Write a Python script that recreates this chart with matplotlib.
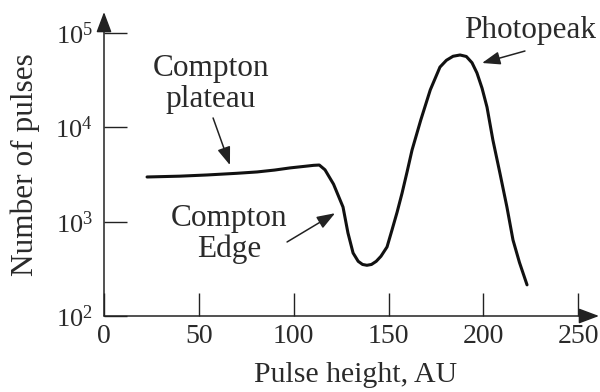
import matplotlib
matplotlib.use("Agg")
import matplotlib.pyplot as plt
from matplotlib.ticker import FixedLocator, NullLocator
from matplotlib.patches import ArrowStyle

# ---- data ----
pulse_height = [22.7, 40, 54.3, 70, 80.7, 90, 98.1, 106, 110.5, 113.5, 116.5,
                121, 126, 128.6, 131.3, 134, 136.3, 138.6, 141, 143.5, 146,
                149.2, 151.8, 154.5, 157.1, 159.8, 162.4, 167, 172, 177.1,
                180.5, 184, 187.7, 191, 194, 196.6, 199.3, 201.9, 205, 208.7,
                212.4, 215.6, 219, 223]
counts = [2980, 3040, 3130, 3260, 3370, 3530, 3720, 3870, 3960, 3990, 3550,
          2500, 1430, 760, 466, 380, 352, 345, 352, 380, 430,
          540, 815, 1260, 2000, 3400, 5770, 12000, 25000, 43600,
          51500, 56800, 58600, 56500, 48500, 37800, 26000, 16400, 7350, 3280,
          1430, 640, 370, 214]

x_ticks = [0, 50, 100, 150, 200, 250]
y_ticks = [1e2, 1e3, 1e4, 1e5]
y_tick_labels = [r"$\mathregular{10^{2}}$", r"$\mathregular{10^{3}}$",
                 r"$\mathregular{10^{4}}$", r"$\mathregular{10^{5}}$"]
x_label = "Pulse height, AU"
y_label = "Number of pulses"

plt.rcParams["font.family"] = ["Liberation Serif", "DejaVu Serif"]
plt.rcParams["mathtext.fontset"] = "custom"
plt.rcParams["mathtext.rm"] = "Liberation Serif"

ink = "#222222"
txt = "#2a2a2a"

fig = plt.figure(figsize=(6, 3.92), dpi=100)
ax = fig.add_axes([104 / 600, 76 / 392, 495 / 600, 304 / 392])
ax.set_yscale("log")
ax.set_xlim(0, 495 / 1.897)
ax.set_ylim(1e2, 10 ** (2 + 304 / 94.3))

ax.plot(pulse_height, counts, color="#111111", lw=2.2,
        solid_joinstyle="round", solid_capstyle="round")

for s in ax.spines.values():
    s.set_visible(False)

axis_arrow = ArrowStyle("-|>", head_length=1.25, head_width=0.47)
for end in [(1, 0), (0, 1)]:
    ax.annotate("", xy=end, xytext=(0, 0), xycoords="axes fraction",
                textcoords="axes fraction",
                arrowprops=dict(arrowstyle=axis_arrow, color=ink, lw=1.1,
                                mutation_scale=10, shrinkA=0, shrinkB=0),
                annotation_clip=False)

ax.xaxis.set_major_locator(FixedLocator(x_ticks))
ax.set_xticklabels([str(t) for t in x_ticks])
ax.yaxis.set_major_locator(FixedLocator(y_ticks))
ax.yaxis.set_minor_locator(NullLocator())
ax.set_yticklabels(y_tick_labels)
ax.tick_params(axis="both", direction="in", length=16.5, width=1.0, color=ink,
               labelcolor=txt)
ax.tick_params(axis="x", labelsize=20, pad=6)
ax.tick_params(axis="y", labelsize=19, pad=8)

ax.set_xlabel(x_label, fontsize=21.5, color=txt)
ax.xaxis.set_label_coords(0.508, -0.15)
ax.set_ylabel(y_label, fontsize=22.5, color=txt)
ax.yaxis.set_label_coords(-0.13, 0.497)

ann_arrow = ArrowStyle("-|>", head_length=1.1, head_width=0.4)
aprops = dict(arrowstyle=ann_arrow, color=ink, lw=1.1, mutation_scale=10,
              shrinkA=0, shrinkB=0)

ax.text(56.4, 10 ** 4.46, "Compton\nplateau", ha="center", va="center",
        fontsize=22.5, color=txt, linespacing=1.08)
ax.annotate("", xy=(66.4, 10 ** 3.60), xytext=(57.5, 10 ** 4.10),
            arrowprops=aprops)

ax.text(65.9, 10 ** 2.87, "Compton\nEdge", ha="center", va="center",
        fontsize=22.5, color=txt, linespacing=1.08)
ax.annotate("", xy=(121.8, 10 ** 3.09), xytext=(96.5, 10 ** 2.785),
            arrowprops=aprops)

ax.text(224.6, 10 ** 5.03, "Photopeak", ha="center", va="center",
        fontsize=22.5, color=txt)
ax.annotate("", xy=(199.3, 10 ** 4.683), xytext=(221.9, 10 ** 4.81),
            arrowprops=aprops)

fig.savefig("out.png", dpi=100, facecolor="white")
